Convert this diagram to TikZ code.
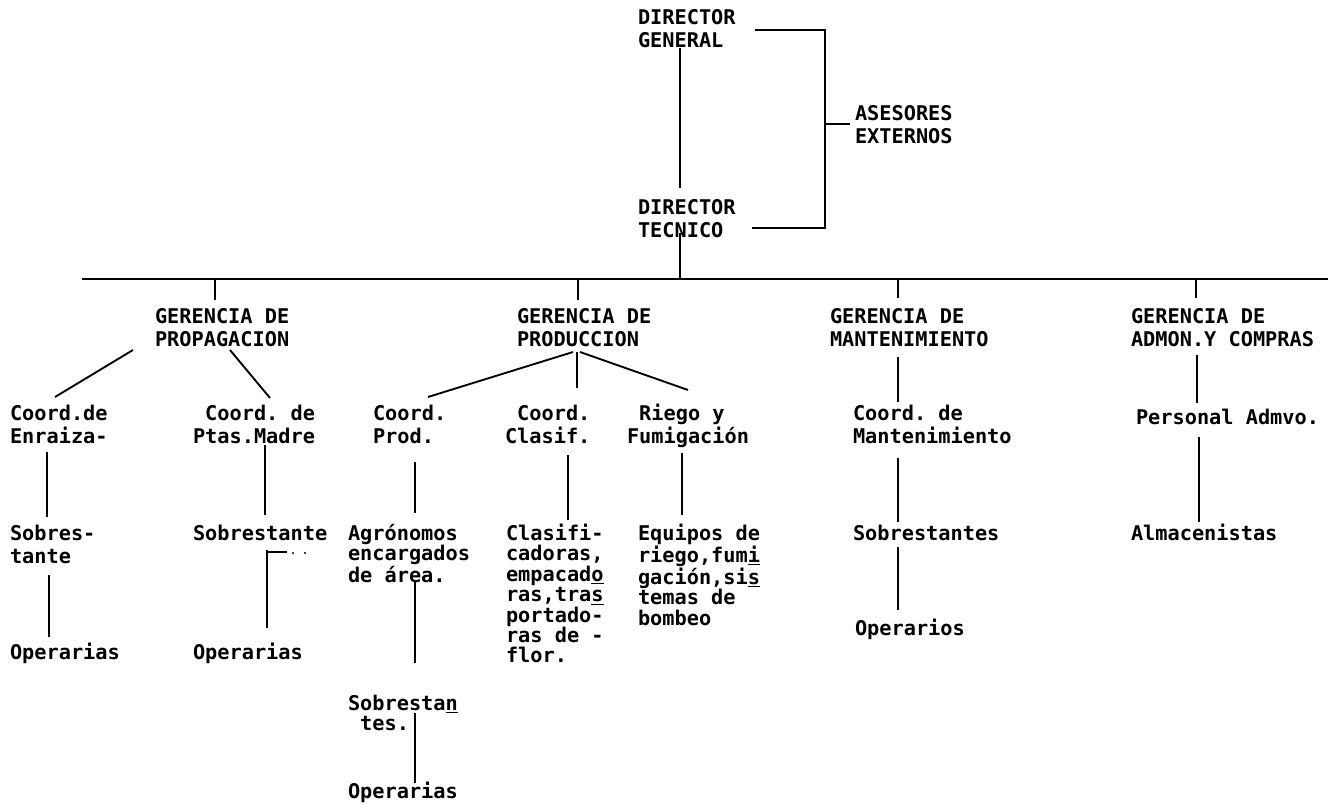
\documentclass[tikz,border=0pt]{standalone}
\usepackage{fontspec}
\setmonofont{DejaVu Sans Mono}
\begin{document}
\begin{tikzpicture}[x=0.75pt,y=-0.75pt,
  lbl/.style={anchor=north west, inner sep=0pt, outer sep=0pt, align=left,
    font=\fontsize{15.2}{17.6}\selectfont\ttfamily\bfseries},
  lblc/.style={lbl, font=\fontsize{15.2}{15.3}\selectfont\ttfamily\bfseries},
  conn/.style={line width=1.4pt, black},
  thinconn/.style={line width=0.9pt, black}]
\fill[white] (0,0) rectangle (1328,805);
\useasboundingbox (0,0) rectangle (1328,805);
\newcommand\fl{\rule{0pt}{0.8em}}
% top
\node[lbl] (dg) at (638,8) {\fl DIRECTOR\\GENERAL};
\node[lbl] (dt) at (638,198) {\fl DIRECTOR\\TECNICO};
\node[lbl] (ases) at (855,104) {\fl ASESORES\\EXTERNOS};
% gerencias
\node[lbl] (gp) at (155,307) {\fl GERENCIA DE\\PROPAGACION};
\node[lbl] (gpr) at (517,307) {\fl GERENCIA DE\\PRODUCCION};
\node[lbl] (gm) at (830,307) {\fl GERENCIA DE\\MANTENIMIENTO};
\node[lbl] (ga) at (1131,307) {\fl GERENCIA DE\\ADMON.Y COMPRAS};
% coordinaciones
\node[lbl] (ce) at (10,404) {\fl Coord.de\\Enraiza-};
\node[lbl] (cm) at (193,404) {\fl \hphantom{x}Coord. de\\Ptas.Madre};
\node[lbl] (cp) at (373,404) {\fl Coord.\\Prod.};
\node[lbl] (cc) at (505,404) {\fl \hphantom{x}Coord.\\Clasif.};
\node[lbl] (crf) at (627,404) {\fl \hphantom{x}Riego y\\Fumigación};
\node[lbl] (cmt) at (853,404) {\fl Coord. de\\Mantenimiento};
\node[lbl] (pa) at (1136,408) {\fl Personal Admvo.};
% third row
\node[lbl] (sb1) at (10,524) {\fl Sobres-\\tante};
\node[lbl] (sb2) at (193,524) {\fl Sobrestante};
\node[lblc] (agr) at (348,524) {\fl Agrónomos\\encargados\\de área.};
\node[lblc] (cla) at (506,524) {\fl Clasifi-\\cadoras,\\empacad\underline{o}\\ras,tra\underline{s}\\portado-\\ras de -\\flor.};
\node[lblc] (eq) at (638,524) {\fl Equipos de\\riego,fum\underline{i}\\gación,si\underline{s}\\temas de\\bombeo};
\node[lbl] (sbm) at (853,524) {\fl Sobrestantes};
\node[lbl] (alm) at (1131,524) {\fl Almacenistas};
% lower rows
\node[lbl] (op1) at (10,643) {\fl Operarias};
\node[lbl] (op2) at (193,643) {\fl Operarias};
\node[lbl] (opm) at (855,619) {\fl Operarios};
\node[lblc] (sbp) at (348,694) {\fl Sobresta\underline{n}\\\hphantom{x}tes.};
\node[lbl] (opp) at (348,782) {\fl Operarias};
% bus
\coordinate (busL) at (82,279);
\coordinate (busR) at (1328,279);
\draw[thinconn] (busL) -- (busR);
% director lines
\draw[conn] ([shift={(42,40)}]dg.north west) -- ([shift={(42,-10)}]dt.north west);
\draw[conn] ([shift={(42,35)}]dt.north west) -- ([shift={(42,81)}]dt.north west);
% bracket to asesores
\draw[conn] ([shift={(117,22)}]dg.north west) -- ++(70,0) |- ([shift={(114,30)}]dt.north west);
\draw[thinconn] ([shift={(-30,0)}]ases.west) -- ([shift={(-5,0)}]ases.west);
% ticks from bus
\draw[conn] ([shift={(60,-28)}]gp.north west) -- ([shift={(60,-7)}]gp.north west);
\draw[conn] ([shift={(61,-28)}]gpr.north west) -- ([shift={(61,-7)}]gpr.north west);
\draw[conn] ([shift={(68,-28)}]gm.north west) -- ([shift={(68,-9)}]gm.north west);
\draw[conn] ([shift={(65,-28)}]ga.north west) -- ([shift={(65,-9)}]ga.north west);
% propagacion
\draw[conn] ([shift={(-22,43)}]gp.north west) -- ([shift={(45,-7)}]ce.north west);
\draw[conn] ([shift={(75,43)}]gp.north west) -- ([shift={(77,-6)}]cm.north west);
\draw[conn] ([shift={(37,48)}]ce.north west) -- ([shift={(37,-7)}]sb1.north west);
\draw[conn] ([shift={(39,51)}]sb1.north west) -- ([shift={(39,-6)}]op1.north west);
\draw[conn] ([shift={(72,41)}]cm.north west) -- ([shift={(72,-9)}]sb2.north west);
\draw[conn] ([shift={(74,26)}]sb2.north west) -- ([shift={(74,-15)}]op2.north west);
\draw[thinconn] ([shift={(75,28)}]sb2.north west) -- ([shift={(94,28)}]sb2.north west);
\fill ([shift={(100,29)}]sb2.north west) circle (1.2);
\fill ([shift={(112,29)}]sb2.north west) circle (1.2);
% produccion
\draw[conn] ([shift={(56,45)}]gpr.north west) -- ([shift={(55,-7)}]cp.north west);
\draw[conn] ([shift={(60,45)}]gpr.north west) -- ([shift={(72,-16)}]cc.north west);
\draw[conn] ([shift={(63,45)}]gpr.north west) -- ([shift={(61,-14)}]crf.north west);
\draw[conn] ([shift={(42,58)}]cp.north west) -- ([shift={(67,-11)}]agr.north west);
\draw[conn] ([shift={(67,58)}]agr.north west) -- ([shift={(67,-31)}]sbp.north west);
\draw[conn] ([shift={(67,19)}]sbp.north west) -- ([shift={(67,1)}]opp.north west);
\draw[conn] ([shift={(63,51)}]cc.north west) -- ([shift={(62,-4)}]cla.north west);
\draw[conn] ([shift={(55,49)}]crf.north west) -- ([shift={(44,-9)}]eq.north west);
% mantenimiento
\draw[conn] ([shift={(68,50)}]gm.north west) -- ([shift={(45,-2)}]cmt.north west);
\draw[conn] ([shift={(45,54)}]cmt.north west) -- ([shift={(45,-2)}]sbm.north west);
\draw[conn] ([shift={(45,23)}]sbm.north west) -- ([shift={(43,-9)}]opm.north west);
% admon
\draw[conn] ([shift={(66,48)}]ga.north west) -- ([shift={(61,-5)}]pa.north west);
\draw[conn] ([shift={(63,29)}]pa.north west) -- ([shift={(68,-2)}]alm.north west);
\end{tikzpicture}
\end{document}
